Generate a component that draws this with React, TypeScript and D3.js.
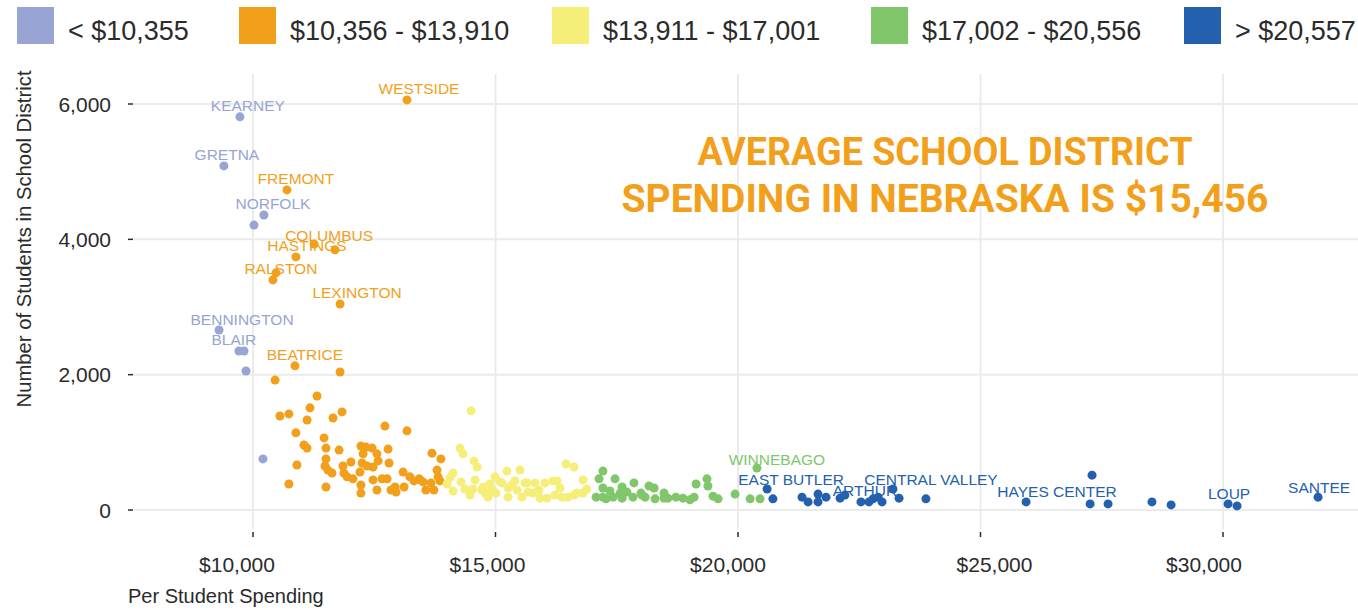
import React from 'react';
import * as d3 from 'd3';

// spending bands (upper bounds are exclusive)
const thresholds = [10356, 13911, 17002, 20557];
const bandColors = ['#98A4D4', '#F29F1C', '#F5EF7A', '#80C66B', '#2361AE'];
const legendLabels = ['< $10,355', '$10,356 - $13,910', '$13,911 - $17,001', '$17,002 - $20,556', '> $20,557'];

const xTicks = [10000, 15000, 20000, 25000, 30000];
const yTicks = [0, 2000, 4000, 6000];

// labelled districts
const namedDistricts = ['KEARNEY', 'WESTSIDE', 'GRETNA', 'FREMONT', 'NORFOLK', 'COLUMBUS', 'HASTINGS', 'RALSTON',
  'LEXINGTON', 'BENNINGTON', 'BLAIR', 'BEATRICE', 'WINNEBAGO', 'EAST BUTLER', 'ARTHUR', 'CENTRAL VALLEY',
  'HAYES CENTER', 'LOUP', 'SANTEE'];
const namedSpending = [9730, 13175, 9400, 10700, 10225, 11260, 10885, 10410, 11795, 9300, 9710, 10865,
  20390, 20600, 22700, 23195, 25940, 30105, 31960];
const namedStudents = [5810, 6060, 5085, 4730, 4360, 3930, 3740, 3400, 3045, 2660, 2350, 2130,
  620, 310, 120, 310, 120, 90, 190];

// other districts: [per student spending, students]
const otherDistricts: [number, number][] = [
  [10020, 4210], [9815, 2350], [9855, 2055], [10205, 755],
  [11690, 3845], [10475, 3505], [11795, 2040], [10455, 1920], [11320, 1685], [10555, 1390], [10740, 1420],
  [11175, 1510], [11115, 1330], [11650, 1360], [11835, 1450], [10885, 1140], [11050, 960], [11115, 915],
  [11465, 1065], [11505, 915], [11775, 885], [12720, 1240], [13175, 1170], [10905, 665], [11505, 755],
  [11485, 650], [11545, 590], [11630, 545], [10740, 385], [11505, 340], [11855, 650], [11875, 545],
  [11940, 490], [12060, 460], [12020, 710], [12225, 945], [12330, 930], [12455, 915], [12555, 830],
  [12580, 725], [12270, 830], [12250, 695], [12350, 650], [12475, 635], [12205, 560], [12475, 445],
  [12225, 370], [12225, 250], [12555, 295], [12660, 460], [12765, 460], [12785, 900], [12805, 695],
  [12845, 295], [12930, 340], [12950, 265], [13115, 340], [13095, 560], [13235, 490], [13320, 430],
  [13425, 460], [13505, 415], [13565, 295], [13670, 400], [13730, 295], [13690, 840], [13875, 755],
  [13795, 590], [13815, 490], [13445, 445], [13855, 430],
  [14495, 1465], [14270, 915], [14330, 830], [14555, 725], [14620, 635], [14125, 545], [14060, 475],
  [14000, 385], [14125, 280], [14290, 415], [14370, 310], [14535, 310], [14580, 445], [14745, 340],
  [14785, 250], [14845, 190], [14930, 295], [14990, 490], [15010, 250], [15135, 400], [15235, 575],
  [15260, 190], [15340, 370], [15400, 430], [15445, 295], [15505, 590], [15545, 190], [15650, 400],
  [15670, 265], [15815, 400], [15895, 295], [16020, 400], [16060, 175], [16185, 430], [16270, 430],
  [16225, 220], [16370, 190], [16455, 680], [16620, 635], [16495, 190], [16620, 220], [16805, 445],
  [16805, 250], [16885, 310], [16680, 250], [14720, 295], [15095, 415], [15610, 400], [15260, 325],
  [14885, 385], [15775, 250], [14475, 220], [15920, 175], [16330, 325],
  [17215, 575], [17135, 460], [17215, 325], [17075, 190], [17280, 165], [17360, 280], [17465, 460],
  [17425, 190], [17610, 340], [17610, 175], [17855, 400], [17835, 190], [18000, 250], [18085, 190],
  [18165, 355], [18270, 325], [18290, 165], [18475, 250], [18475, 175], [18720, 190], [18865, 175],
  [19010, 150], [19095, 190], [19135, 385], [19360, 460], [19380, 355], [19485, 205], [19590, 165],
  [19940, 235], [20250, 165], [20455, 165], [17710, 265], [17215, 190], [17570, 250], [18020, 220],
  [18555, 175],
  [20720, 165], [21320, 190], [21445, 120], [21650, 235], [21650, 120], [21815, 190], [22105, 175],
  [22205, 220], [22535, 120], [22785, 165], [22890, 190], [22970, 120], [23320, 175], [23875, 165],
  [27300, 515], [27260, 90], [27630, 90], [28535, 120], [28930, 75], [30290, 60],
];

// label placement relative to its point (px)
const labelNudge: Record<string, [number, number]> = {
  KEARNEY: [8, -11], WESTSIDE: [12, -11], GRETNA: [3, -11], FREMONT: [9, -11], NORFOLK: [9, -11],
  COLUMBUS: [15, -9], HASTINGS: [11, -11], RALSTON: [8, -11], LEXINGTON: [17, -11], BENNINGTON: [23, -11],
  BLAIR: [-5, -11], BEATRICE: [10, -11], WINNEBAGO: [20, -9], 'EAST BUTLER': [24, -10], ARTHUR: [-4, -11],
  'CENTRAL VALLEY': [38, -10], 'HAYES CENTER': [31, -10], LOUP: [1, -10], SANTEE: [1, -10],
};
const xTickNudge = [-16, -8, -10, 14, -19];
const legendX = [17, 239, 552, 871, 1184];

const W = 1358;
const H = 610;
const panel = { left: 134, right: 1358, top: 74, bottom: 529 };
const font = '"Liberation Sans", Arial, sans-serif';
const ink = '#2b2b2b';

export default function App() {
  const x = d3.scaleLinear().domain([10000, 30000]).range([253, 1223]);
  const y = d3.scaleLinear().domain([0, 6000]).range([510, 104]);
  const color = d3.scaleThreshold<number, string>().domain(thresholds).range(bandColors);
  const money = (v: number) => '$' + d3.format(',')(v);

  const named = namedDistricts.map((name, i) => ({ name, s: namedSpending[i], n: namedStudents[i] }));

  return (
    <svg width={W} height={H} style={{ position: 'absolute', left: 0, top: 0, background: '#fff' }}
      fontFamily={font}>
      {/* legend */}
      {legendLabels.map((l, i) => (
        <g key={l} transform={`translate(${legendX[i]},7)`}>
          <rect width={37} height={37} fill={bandColors[i]} />
          <text x={51} y={33} fontSize={27} fill={ink}>{l}</text>
        </g>
      ))}

      {/* grid */}
      {yTicks.map(t => (
        <line key={'gy' + t} x1={panel.left} x2={panel.right} y1={y(t)} y2={y(t)} stroke="#ebebeb" strokeWidth={2} />
      ))}
      {xTicks.map(t => (
        <line key={'gx' + t} x1={x(t)} x2={x(t)} y1={panel.top} y2={panel.bottom} stroke="#ebebeb" strokeWidth={2} />
      ))}

      {/* y axis */}
      {yTicks.map(t => (
        <g key={'ty' + t}>
          <line x1={128} x2={133} y1={y(t)} y2={y(t)} stroke={ink} strokeWidth={1.5} />
          <text x={111} y={y(t) + 7.5} fontSize={21} textAnchor="end" fill={ink}>{d3.format(',')(t)}</text>
        </g>
      ))}
      <text transform="translate(31,239) rotate(-90)" fontSize={20.3} textAnchor="middle" fill={ink}>
        Number of Students in School District
      </text>

      {/* x axis */}
      {xTicks.map((t, i) => (
        <g key={'tx' + t}>
          <line x1={x(t)} x2={x(t)} y1={532} y2={537} stroke={ink} strokeWidth={1.5} />
          <text x={x(t) + xTickNudge[i]} y={572} fontSize={21} textAnchor="middle" fill={ink}>{money(t)}</text>
        </g>
      ))}
      <text x={128} y={603} fontSize={20} fill={ink}>Per Student Spending</text>

      {/* annotation */}
      <text x={945} y={165} fontSize={38} fontWeight={700} fontFamily="Roboto, sans-serif" textAnchor="middle"
        fill="#F29F1C" textLength={495} lengthAdjust="spacingAndGlyphs">AVERAGE SCHOOL DISTRICT</text>
      <text x={945} y={212} fontSize={38} fontWeight={700} fontFamily="Roboto, sans-serif" textAnchor="middle"
        fill="#F29F1C" textLength={647} lengthAdjust="spacingAndGlyphs">SPENDING IN NEBRASKA IS $15,456</text>

      {/* district labels */}
      {named.map(d => {
        const [dx, dy] = labelNudge[d.name] || [0, -11];
        return (
          <text key={'l' + d.name} x={x(d.s) + dx} y={y(d.n) + dy + 5.5} fontSize={15.5} textAnchor="middle"
            fill={color(d.s)}>{d.name}</text>
        );
      })}

      {/* points */}
      {otherDistricts.map((d, i) => (
        <circle key={'p' + i} cx={x(d[0])} cy={y(d[1])} r={4.5} fill={color(d[0])} />
      ))}
      {named.map(d => (
        <circle key={'n' + d.name} cx={x(d.s)} cy={y(d.n)} r={4.5} fill={color(d.s)} />
      ))}
    </svg>
  );
}
